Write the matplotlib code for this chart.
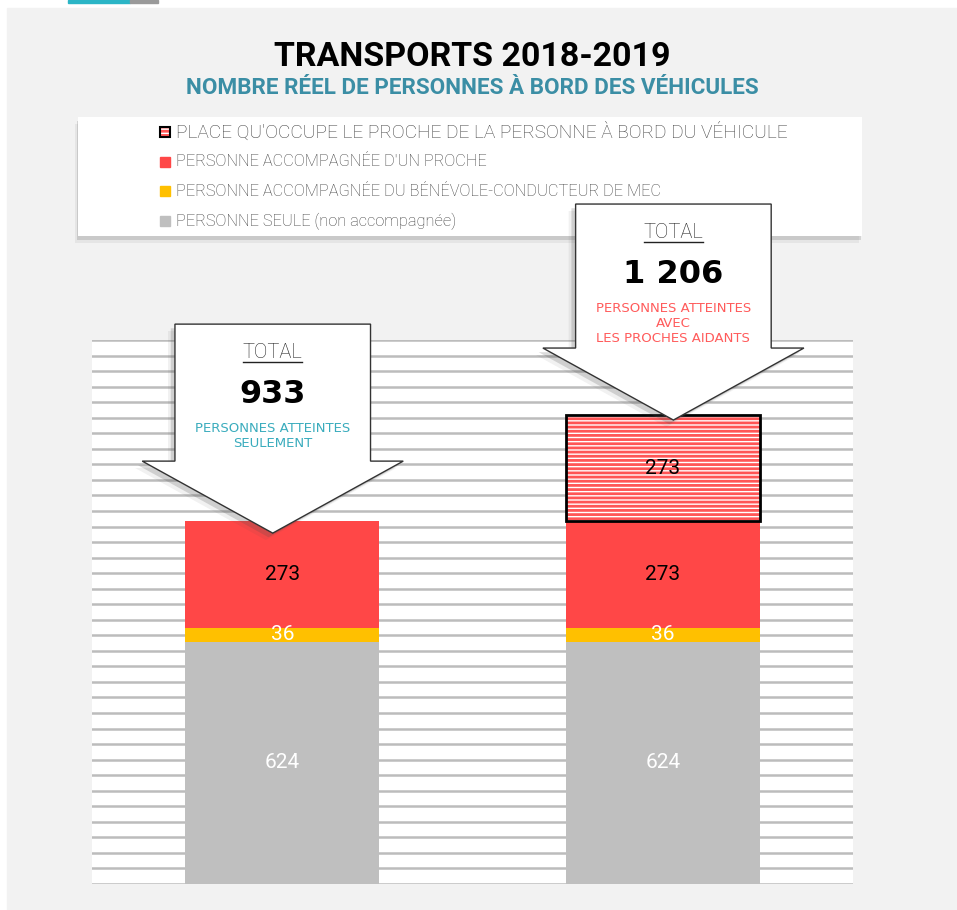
import numpy as np
import matplotlib.pyplot as plt
import matplotlib.patheffects as pe
from matplotlib.patches import Rectangle, Polygon
from matplotlib.lines import Line2D

W, H = 957, 910

# ---- data ----
categories = ['Personnes seulement', 'Avec les proches aidants']
seule = [624, 624]
benevole = [36, 36]
proche = [273, 273]
place_proche = [0, 273]

legend_labels = ["PLACE QU'OCCUPE LE PROCHE DE LA PERSONNE À BORD DU VÉHICULE",
                 "PERSONNE ACCOMPAGNÉE D'UN PROCHE",
                 "PERSONNE ACCOMPAGNÉE DU BÉNÉVOLE-CONDUCTEUR DE MEC",
                 "PERSONNE SEULE (non accompagnée)"]
callout_text = ['PERSONNES ATTEINTES\nSEULEMENT',
                'PERSONNES ATTEINTES\nAVEC\nLES PROCHES AIDANTS']

GRAY = '#bfbfbf'
YELLOW = '#ffc000'
RED = '#ff4747'
HATCH_RED = '#ff5555'
callout_colors = ['#3aacbd', '#ff5b5b']
NARROW = ['Roboto', 'DejaVu Sans']

plt.rcParams['hatch.linewidth'] = 2.0

fig = plt.figure(figsize=(W / 100, H / 100), dpi=100)
fig.patch.set_facecolor('white')

# background layer in pixel coords
bg = fig.add_axes([0, 0, 1, 1], zorder=0)
bg.set_xlim(0, W)
bg.set_ylim(H, 0)
bg.axis('off')
bg.add_patch(Rectangle((7, 8), W, H, color='#f2f2f2'))
bg.add_patch(Rectangle((68, 0), 62, 3, color='#2bb5c6'))
bg.add_patch(Rectangle((130, 0), 28, 3, color='#9a9a9a'))

bg.text(472, 57, 'TRANSPORTS 2018-2019', ha='center', va='center',
        fontsize=24.5, fontweight='bold', family=NARROW)
bg.text(472, 88, 'NOMBRE RÉEL DE PERSONNES À BORD DES VÉHICULES', ha='center',
        va='center', fontsize=16.2, fontweight='bold', color='#3b8ea5', family=NARROW)

# legend box
shadow = [pe.SimplePatchShadow(offset=(-1, -3), alpha=0.18),
          pe.SimplePatchShadow(offset=(-2, -5), alpha=0.08), pe.Normal()]
bg.add_patch(Rectangle((78, 117), 784, 119, facecolor='white', edgecolor='none',
                       path_effects=shadow))
leg_y = [132, 162, 191, 221]
leg_sizes = [13.75, 11.8, 11.8, 11.8]
leg_colors = [None, RED, YELLOW, GRAY]
for yy, lab, sz, c in zip(leg_y, legend_labels, leg_sizes, leg_colors):
    if c is None:
        bg.add_patch(Rectangle((160, yy - 5), 10, 10, facecolor='white',
                               edgecolor=HATCH_RED, hatch='----', lw=0))
        bg.add_patch(Rectangle((160, yy - 5), 10, 10, fill=False,
                               edgecolor='black', lw=1.5))
    else:
        bg.add_patch(Rectangle((160, yy - 5), 10, 10, color=c))
    bg.text(176, yy, lab, ha='left', va='center', fontsize=sz, fontweight='light',
            color='#404040', family=NARROW)

# ---- main chart ----
ax = fig.add_axes([92 / W, 1 - 884 / H, 761 / W, 544 / H], zorder=1)
ax.set_facecolor('white')
x = np.arange(len(categories))
bw = 0.51
ax.bar(x, seule, bw, color=GRAY, zorder=2)
b1 = np.array(seule)
ax.bar(x, benevole, bw, bottom=b1, color=YELLOW, zorder=2)
b2 = b1 + np.array(benevole)
ax.bar(x, proche, bw, bottom=b2, color=RED, zorder=2)
b3 = b2 + np.array(proche)
pp = np.array(place_proche)
m = pp > 0
ax.bar(x[m], pp[m], bw, bottom=b3[m], color='white', edgecolor=HATCH_RED,
       hatch='----', lw=0, zorder=2)
ax.bar(x[m], pp[m], bw, bottom=b3[m], fill=False, edgecolor='black', lw=2,
       zorder=3)
totals = b3 + pp

lab_kw = dict(ha='center', va='center', fontsize=15, family=NARROW, zorder=4)
for i in range(len(x)):
    ax.text(x[i], seule[i] / 2, str(seule[i]), color='white', **lab_kw)
    ax.text(x[i], b1[i] + benevole[i] / 2, str(benevole[i]), color='white', **lab_kw)
    ax.text(x[i], b2[i] + proche[i] / 2, str(proche[i]), color='black', **lab_kw)
    if pp[i] > 0:
        ax.text(x[i], b3[i] + pp[i] / 2, str(pp[i]), color='black', **lab_kw)

ax.set_xlim(-0.5, 1.5)
ax.set_ylim(0, 1400)
ax.set_yticks(np.arange(0, 1401, 40))
ax.set_xticks([])
ax.tick_params(left=False, labelleft=False)
ax.yaxis.grid(True, color='#bcbcbc', lw=1.8)
ax.set_axisbelow(True)
for s in ax.spines.values():
    s.set_visible(False)

# ---- callouts ----
ppu = 544 / 1400
cx_off = [-0.025, 0.028]
tip_gap = [30, 12]
rect_px = [137, 144]
head_px = 72
for i, t in enumerate(totals):
    xc = x[i] + cx_off[i]
    tip = t - tip_gap[i]
    head_top = tip + head_px / ppu
    rect_top = head_top + rect_px[i] / ppu
    rw, hw = 0.257, 0.343
    pts = [(xc - rw, rect_top), (xc + rw, rect_top), (xc + rw, head_top),
           (xc + hw, head_top), (xc, tip), (xc - hw, head_top),
           (xc - rw, head_top)]
    ax.add_patch(Polygon(pts, closed=True, facecolor='white', edgecolor='#333333',
                         lw=1, zorder=6, clip_on=False,
                         path_effects=[pe.SimplePatchShadow(offset=(-3, -3), alpha=0.2),
                                       pe.SimplePatchShadow(offset=(-5, -5), alpha=0.08),
                                       pe.Normal()]))
    ax.text(xc, rect_top - 28 / ppu, 'TOTAL', ha='center', va='center',
            fontsize=14.5, fontweight='light', color='#222222', family=NARROW,
            zorder=7, clip_on=False)
    ax.add_line(Line2D([xc - 0.078, xc + 0.078],
                       [rect_top - 38 / ppu] * 2, color='#222222', lw=1,
                       zorder=7, clip_on=False))
    ax.text(xc, rect_top - 70 / ppu, f'{int(t):,}'.replace(',', ' '),
            ha='center', va='center', fontsize=23, fontweight='bold',
            color='black', zorder=7, clip_on=False)
    ax.text(xc, rect_top - 98 / ppu, callout_text[i], ha='center', va='top',
            fontsize=9.5, color=callout_colors[i], linespacing=1.2,
            zorder=7, clip_on=False)

fig.savefig('out.png', dpi=100)
